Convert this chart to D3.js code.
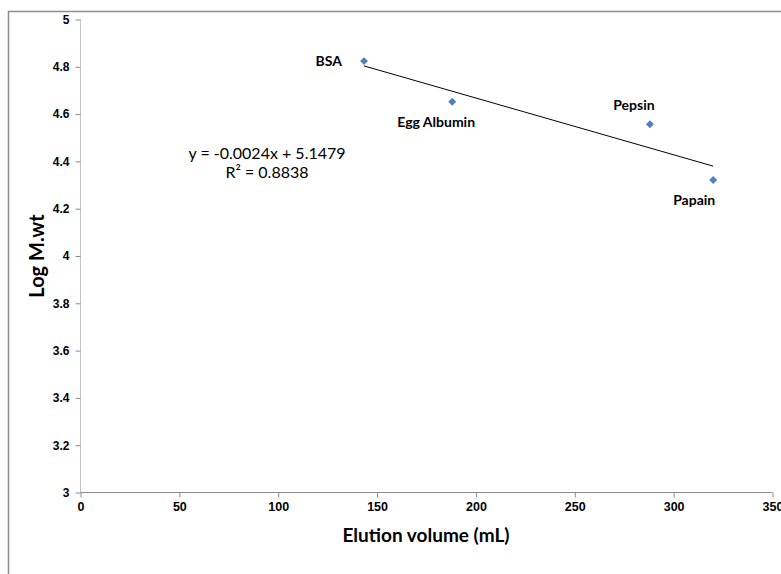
<!DOCTYPE html>
<html>
<head>
<meta charset="utf-8">
<script src="https://cdn.jsdelivr.net/npm/d3@7"></script>
<style>
  body { margin: 0; background: #fff; }
  svg text { font-family: "Liberation Sans", Arial, sans-serif; }
</style>
</head>
<body>
<div id="chart"></div>
<script>
// protein standards, gel filtration
const proteins = ["BSA", "Egg Albumin", "Pepsin", "Papain"]
const elutionVolume = [143.4, 188, 288, 320]
const logMwt = [4.824, 4.652, 4.557, 4.321]
const xTicks = [0, 50, 100, 150, 200, 250, 300, 350]
const yTicks = [3, 3.2, 3.4, 3.6, 3.8, 4, 4.2, 4.4, 4.6, 4.8, 5]
const trendSlope = -0.0024
const trendIntercept = 5.1479
const equationLines = ["y = -0.0024x + 5.1479", "R² = 0.8838"]

function renderScatter(frame_id) {
    let width = 781
    let height = 574

    var svg = d3.select("#" + frame_id)
        .append("svg")
        .attr("width", width)
        .attr("height", height)

    // outer chart frame, runs off the right and bottom edge
    svg.append("rect")
        .attr("x", 8.5).attr("y", 11.5)
        .attr("width", 800).attr("height", 600)
        .attr("fill", "none")
        .attr("stroke", "#8c8c8c")
        .style("stroke-width", "1.5px")

    let x = d3.scaleLinear().domain([0, 350]).range([80.5, 772.5])
    let y = d3.scaleLinear().domain([3, 5]).range([492.5, 19.5])

    // y axis
    var yAxis = svg.append("g")
        .attr("transform", "translate(80.5,0)")
        .call(d3.axisLeft(y).tickValues(yTicks).tickSize(5).tickFormat(d3.format("~g")))
    yAxis.select(".domain").attr("stroke", "#c4c4c4").attr("d", "M0," + y(5) + "V" + y(3))
    yAxis.selectAll(".tick line").attr("stroke", "#8c8c8c")
    yAxis.selectAll(".tick text")
        .attr("x", -11)
        .style("font-size", "12px")
        .style("font-weight", "bold")
        .attr("fill", "#000")

    // x axis
    var xAxis = svg.append("g")
        .attr("transform", "translate(0,492.5)")
        .call(d3.axisBottom(x).tickValues(xTicks).tickSize(5).tickFormat(d3.format("d")))
    xAxis.select(".domain").attr("stroke", "#8c8c8c").attr("d", "M" + x(0) + ",0H" + x(350))
    xAxis.selectAll(".tick line").attr("stroke", "#8c8c8c")
    xAxis.selectAll(".tick text")
        .attr("y", 10)
        .style("font-size", "12.5px")
        .style("font-weight", "bold")
        .attr("fill", "#000")

    // axis titles
    svg.append("text")
        .text("Elution volume (mL)")
        .attr("x", 426).attr("y", 542)
        .style("text-anchor", "middle")
        .style("font-family", "Lato, 'Open Sans', sans-serif")
        .style("font-size", "19px")
        .style("font-weight", "bold")

    svg.append("text")
        .text("Log M.wt")
        .attr("transform", "translate(44,256) rotate(-90)")
        .style("text-anchor", "middle")
        .style("font-family", "Lato, 'Open Sans', sans-serif")
        .style("font-size", "20px")
        .style("font-weight", "bold")

    // linear trendline from first to last point
    let xMin = d3.min(elutionVolume), xMax = d3.max(elutionVolume)
    svg.append("line")
        .attr("x1", x(xMin)).attr("y1", y(trendSlope * xMin + trendIntercept))
        .attr("x2", x(xMax)).attr("y2", y(trendSlope * xMax + trendIntercept))
        .attr("stroke", "#000")
        .style("stroke-width", "1px")

    let points = proteins.map((p, i) => ({ name: p, vx: elutionVolume[i], vy: logMwt[i] }))

    svg.selectAll("marks")
        .data(points)
        .enter()
        .append("path")
        .attr("d", d3.symbol(d3.symbolDiamond2, 40))
        .attr("transform", d => "translate(" + x(d.vx) + "," + y(d.vy) + ")")
        .attr("fill", "#4f81bd")

    // label placement relative to each point
    let labelOffset = {
        "BSA": [-22, 5, "end"],
        "Egg Albumin": [-16, 25, "middle"],
        "Pepsin": [-16, -14, "middle"],
        "Papain": [-19, 25, "middle"]
    }
    svg.selectAll("labels")
        .data(points)
        .enter()
        .append("text")
        .text(d => d.name)
        .attr("x", d => x(d.vx) + labelOffset[d.name][0])
        .attr("y", d => y(d.vy) + labelOffset[d.name][1])
        .style("text-anchor", d => labelOffset[d.name][2])
        .style("font-family", "Lato, 'Open Sans', sans-serif")
        .style("font-size", "14px")
        .style("font-weight", "bold")

    // regression equation
    svg.selectAll("eq")
        .data(equationLines)
        .enter()
        .append("text")
        .text(d => d)
        .attr("x", 267)
        .attr("y", (d, i) => 159 + i * 19)
        .style("text-anchor", "middle")
        .style("font-family", "Lato, 'Open Sans', sans-serif")
        .style("font-size", "16px")
}

renderScatter("chart")
</script>
</body>
</html>
